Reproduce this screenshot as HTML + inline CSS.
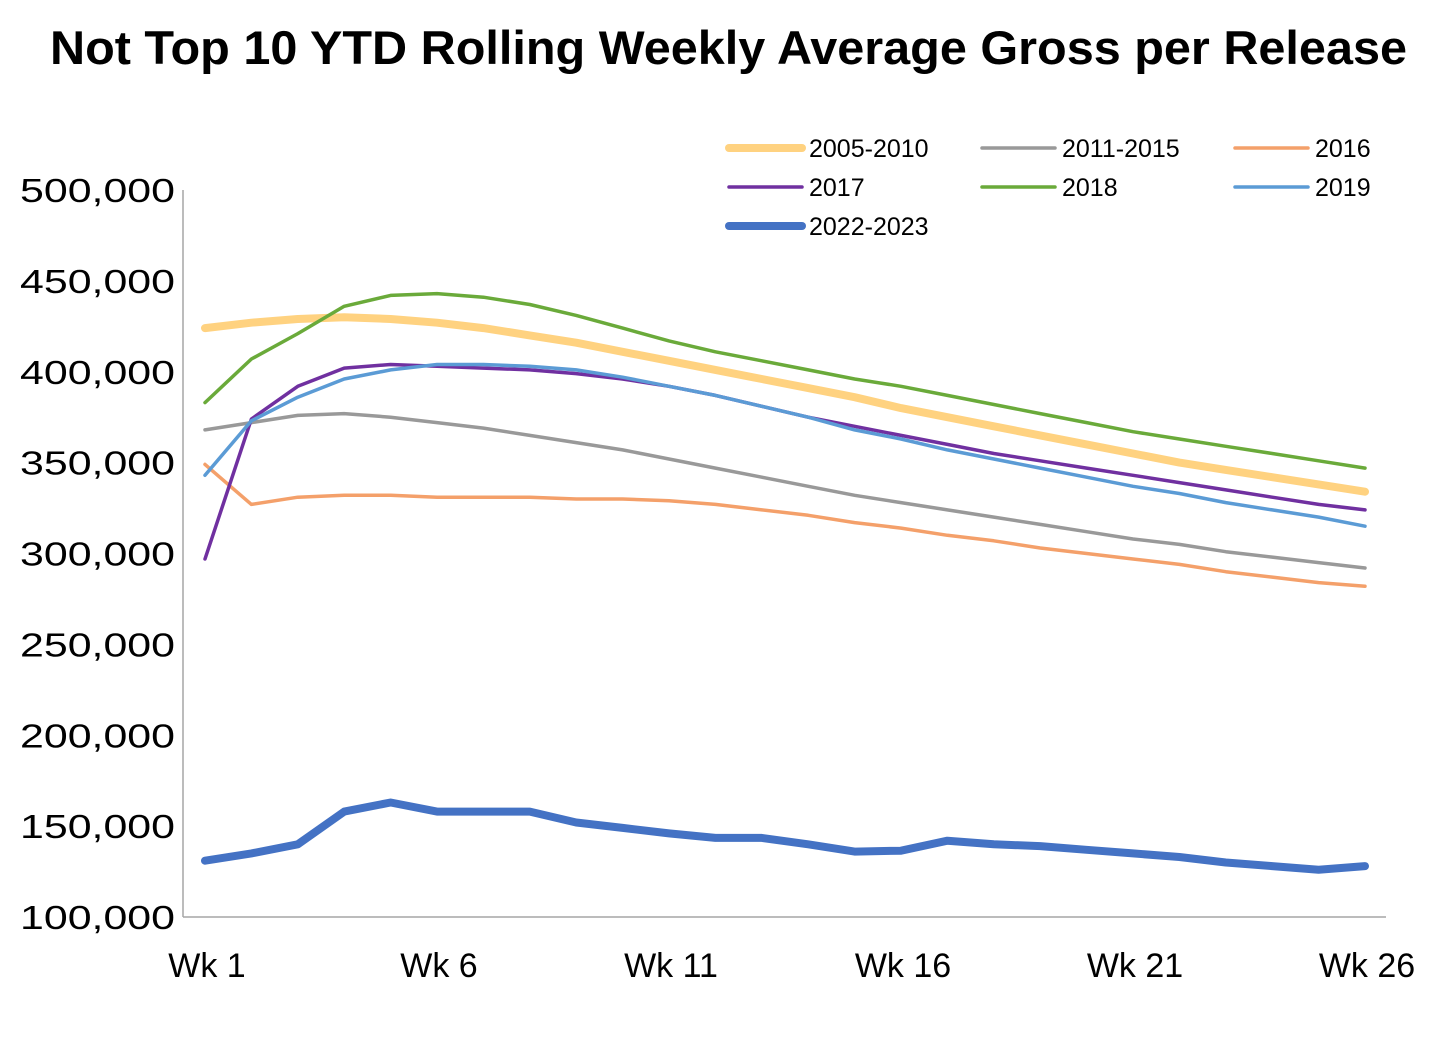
<!DOCTYPE html>
<html><head><meta charset="utf-8"><style>
body{margin:0;background:#fff;}
svg text{font-family:"Liberation Sans",Arial,sans-serif;}
</style></head><body>
<svg width="1456" height="1034" xmlns="http://www.w3.org/2000/svg" id="chart">
<text x="50" y="64" textLength="1357" lengthAdjust="spacingAndGlyphs" font-size="47" font-weight="bold" fill="#000">Not Top 10 YTD Rolling Weekly Average Gross per Release</text>
<g id="axes"></g><g id="lines"></g><g id="legend"></g>
</svg>
<script>
const weeks = Array.from({length:26},(_,i)=>i+1);
const seriesNames = ["2005-2010","2011-2015","2016","2017","2018","2019","2022-2023"];
const s2005 = [424,427,429,430,429,427,424,420,416,411,406,401,396,391,386,380,375,370,365,360,355,350,346,342,338,334];
const s2011 = [368,372,376,377,375,372,369,365,361,357,352,347,342,337,332,328,324,320,316,312,308,305,301,298,295,292];
const s2016 = [349,327,331,332,332,331,331,331,330,330,329,327,324,321,317,314,310,307,303,300,297,294,290,287,284,282];
const s2017 = [297,374,392,402,404,403,402,401,399,396,392,387,381,375,370,365,360,355,351,347,343,339,335,331,327,324];
const s2018 = [383,407,421,436,442,443,441,437,431,424,417,411,406,401,396,392,387,382,377,372,367,363,359,355,351,347];
const s2019 = [343,373,386,396,401,404,404,403,401,397,392,387,381,375,368,363,357,352,347,342,337,333,328,324,320,315];
const s2022 = [131,135,140,158,163,158,158,158,152,149,146,143.5,143.5,140,136,136.5,142,140,139,137,135,133,130,128,126,128];
const yTicks = [100000,150000,200000,250000,300000,350000,400000,450000,500000];
const xTickWeeks = [1,6,11,16,21,26];

const NS="http://www.w3.org/2000/svg";
const yScale = v => 917 - (v-100000)/400000*727;
const xScale = w => 205 + (w-1)*46.4;
function mk(tag, attrs, parent, txt){const e=document.createElementNS(NS,tag);for(const k in attrs)e.setAttribute(k,attrs[k]);if(txt!==undefined)e.textContent=txt;parent.appendChild(e);return e;}
const axes=document.getElementById('axes');
let e=mk('line',{x1:183,y1:190,x2:183,y2:917,stroke:'#a6a6a6','stroke-width':1.5},axes);


e=mk('line',{x1:183,y1:917,x2:1386,y2:917,stroke:'#a6a6a6','stroke-width':1.5},axes);


yTicks.forEach(v=>{
  const t=mk('text',{x:20,y:yScale(v)+12,textLength:155,lengthAdjust:'spacingAndGlyphs','font-size':33,fill:'#000'},axes,v.toLocaleString('en-US'));
  
  
});
xTickWeeks.forEach(w=>{
  const t=mk('text',{x:xScale(w)+2,y:977,'text-anchor':'middle','font-size':34,fill:'#000'},axes,'Wk '+w);
  
  
});
const data=[s2005,s2011,s2016,s2017,s2018,s2019,s2022];
const colors=['#ffd280','#999999','#f4a06a','#7030a0','#6aaa3a','#5b9bd5','#4472c4'];
const widths=[8,3.5,3.5,3.5,3.5,3.5,8];
const order=[0,1,2,4,3,5,6];
const lines=document.getElementById('lines');
order.forEach(i=>{
  const pts=data[i].map((v,j)=>xScale(weeks[j]).toFixed(1)+','+yScale(v*1000).toFixed(1)).join(' ');
  const p=mk('polyline',{points:pts,fill:'none',stroke:colors[i],'stroke-width':widths[i],'stroke-linejoin':'round','stroke-linecap':'round'},lines);
  
  
});
const legend=document.getElementById('legend');
seriesNames.forEach((n,i)=>{
  const col=i%3,row=Math.floor(i/3);
  const x=729+col*253,y=148+row*39;
  const g=mk('g',{},legend);
  
  
  mk('line',{x1:x,y1:y,x2:x+73,y2:y,stroke:colors[i],'stroke-width':widths[i],'stroke-linecap':'round'},g);
  mk('text',{x:x+80,y:y+9,'font-size':25,fill:'#000'},g,n);
});
</script>
</body></html>
